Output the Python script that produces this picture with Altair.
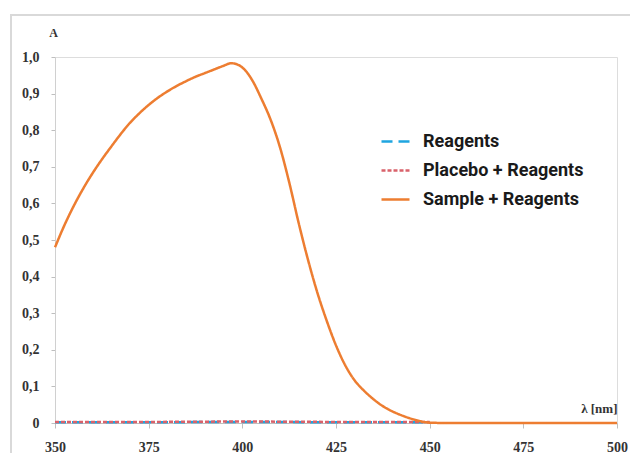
import altair as alt
import pandas as pd

# Sample + Reagents spectrum
wl_sample = [350, 352.5, 355, 357.5, 360, 362.5, 365, 367.5, 370, 372.5, 375, 377.5, 380, 382.5,
             385, 387.5, 390, 392.5, 395, 397, 399, 401, 403, 405, 407.5, 410, 412.5, 415, 417.5,
             420, 422.5, 425, 427.5, 430, 432.5, 435, 437.5, 440, 442.5, 445, 447.5, 450,
             455, 460, 470, 480, 490, 500]
a_sample = [0.48, 0.54, 0.593, 0.64, 0.682, 0.72, 0.755, 0.789, 0.82, 0.846, 0.869, 0.889, 0.906, 0.921,
            0.934, 0.946, 0.956, 0.966, 0.976, 0.983, 0.978, 0.961, 0.93, 0.888, 0.83, 0.755, 0.658, 0.548, 0.447,
            0.357, 0.28, 0.212, 0.157, 0.116, 0.088, 0.065, 0.046, 0.032, 0.021, 0.012, 0.005, 0.001,
            0.0, 0.0, 0.0, 0.0, 0.0, 0.0]

# Reagents and Placebo + Reagents (near zero, 350-450 nm)
wl_blank = [350, 375, 400, 425, 450]
a_reagents = [0.002, 0.002, 0.003, 0.002, 0.002]
a_placebo = [0.003, 0.003, 0.004, 0.003, 0.003]

series = ["Reagents", "Placebo + Reagents", "Sample + Reagents"]
colors = ["#1fa5e0", "#d9626b", "#ed7d31"]
dashes = [[11, 6], [4, 2], [1, 0]]

y_ticks = [0, 0.1, 0.2, 0.3, 0.4, 0.5, 0.6, 0.7, 0.8, 0.9, 1.0]
x_ticks = [350, 375, 400, 425, 450, 475, 500]

rows = []
for w, a in zip(wl_blank, a_reagents):
    rows.append({"wl": w, "A": a, "series": series[0], "ord": 0})
for w, a in zip(wl_blank, a_placebo):
    rows.append({"wl": w, "A": a, "series": series[1], "ord": 1})
for w, a in zip(wl_sample, a_sample):
    rows.append({"wl": w, "A": a, "series": series[2], "ord": 2})
df = pd.DataFrame(rows)

label_font = "Liberation Serif"

frame = alt.Chart(pd.DataFrame({"d": [0]})).mark_rect(
    fill="transparent", stroke="#d9d9d9", strokeWidth=2
).encode(
    x=alt.value(-44), x2=alt.value(581), y=alt.value(-42), y2=alt.value(420)
)

lines = alt.Chart(df).mark_line(strokeWidth=2.5, interpolate="monotone").encode(
    x=alt.X("wl:Q", scale=alt.Scale(domain=[350, 500], nice=False),
            axis=alt.Axis(values=x_ticks, title="λ [nm]", grid=False,
                          domainColor="#bfbfbf", tickColor="#bfbfbf", tickSize=5,
                          labelFont=label_font, labelFontSize=14, labelFontWeight="bold",
                          labelColor="#333333", labelPadding=12, labelFlush=False,
                          titleFont=label_font, titleFontSize=13, titleFontWeight="bold",
                          titleColor="#333333", titleAnchor="end", titleAlign="right",
                          titleX=562, titleY=-8, titleBaseline="bottom")),
    y=alt.Y("A:Q", scale=alt.Scale(domain=[0, 1], nice=False),
            axis=alt.Axis(values=y_ticks, title="A", grid=False,
                          labelExpr="datum.value == 0 ? '0' : replace(format(datum.value, '.1f'), '.', ',')",
                          domainColor="#d0d0d0", tickColor="#bfbfbf", tickSize=4,
                          labelFont=label_font, labelFontSize=14, labelFontWeight="bold",
                          labelColor="#333333", labelPadding=12,
                          titleFont=label_font, titleFontSize=12, titleFontWeight="bold",
                          titleColor="#333333", titleAngle=0, titleX=-2, titleY=-18,
                          titleAlign="center", titleBaseline="bottom")),
    color=alt.Color("series:N", scale=alt.Scale(domain=series, range=colors),
                    legend=alt.Legend(title=None, orient="none", legendX=325, legendY=69,
                                      symbolType="stroke", symbolSize=784, symbolStrokeWidth=2.5,
                                      labelFont="Roboto", labelFontSize=18, labelFontWeight="bold",
                                      labelColor="#1a1a1a", labelOffset=12, rowPadding=4,
                                      labelLimit=400, padding=0)),
    strokeDash=alt.StrokeDash("series:N", scale=alt.Scale(domain=series, range=dashes), legend=None),
    order=alt.Order("ord:Q"),
    detail="series:N",
)

chart = alt.layer(frame, lines).properties(
    width=562, height=366,
    autosize=alt.AutoSizeParams(type="none"),
    padding={"left": 47, "top": 49, "right": 13, "bottom": 30},
).configure_view(stroke=None).configure(background="white")

chart.save("out.html", embed_options={"renderer": "svg", "actions": False})
